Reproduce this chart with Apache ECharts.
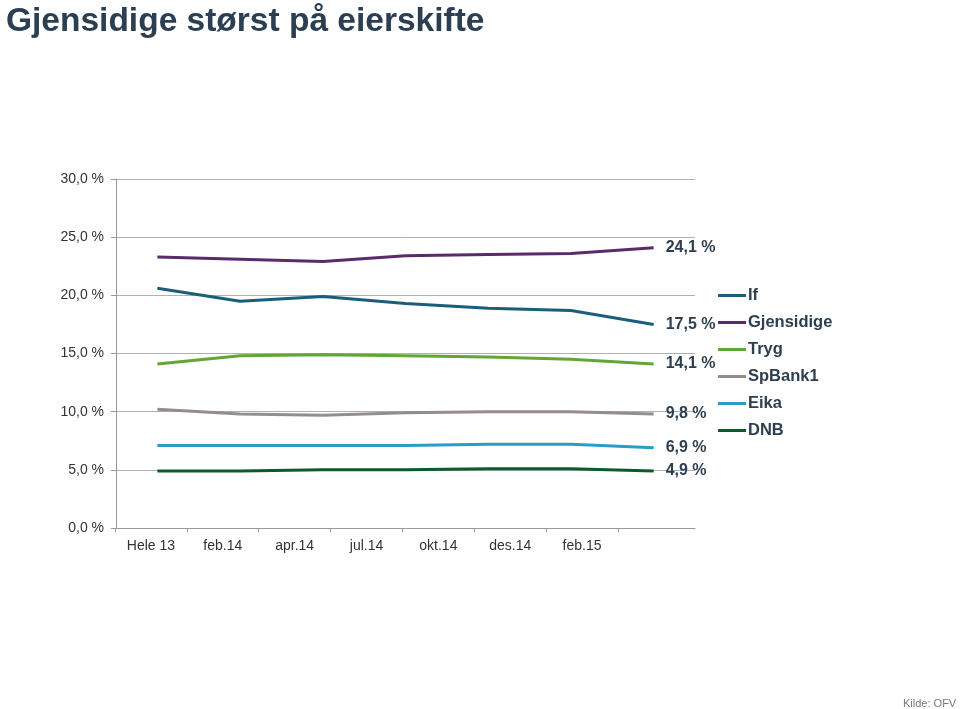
<!DOCTYPE html>
<html><head><meta charset="utf-8">
<script src="https://cdn.jsdelivr.net/npm/echarts@6/dist/echarts.min.js"></script>
<style>html,body{margin:0;padding:0;background:#fff}#c{width:960px;height:709px}</style>
</head><body><div id="c"></div>
<script>
const categories = ['Hele 13','feb.14','apr.14','jul.14','okt.14','des.14','feb.15'];
const seriesNames = ['If','Gjensidige','Tryg','SpBank1','Eika','DNB'];
const ifVals = [20.6, 19.5, 19.9, 19.3, 18.9, 18.7, 17.5];
const gjensidigeVals = [23.3, 23.1, 22.9, 23.4, 23.5, 23.6, 24.1];
const trygVals = [14.1, 14.8, 14.9, 14.8, 14.7, 14.5, 14.1];
const spbankVals = [10.2, 9.8, 9.7, 9.9, 10.0, 10.0, 9.8];
const eikaVals = [7.1, 7.1, 7.1, 7.1, 7.2, 7.2, 6.9];
const dnbVals = [4.9, 4.9, 5.0, 5.0, 5.1, 5.1, 4.9];
const yTicks = [0, 5, 10, 15, 20, 25, 30];

const colors = ['#1b5d7c','#5b2a6b','#62a638','#948d8a','#2b9bc9','#0f5a2c'];
const allVals = [ifVals, gjensidigeVals, trygVals, spbankVals, eikaVals, dnbVals];
const fmt = v => v.toFixed(1).replace('.', ',') + ' %';
const txt = '#2c3e50';

const chart = echarts.init(document.getElementById('c'));
chart.setOption({
  animation: false,
  title: [
    {text: 'Gjensidige størst på eierskifte', left: 1, top: 0,
     textStyle: {fontFamily: 'Liberation Sans', fontSize: 33.5, fontWeight: 'bold', color: '#2b3e52'}},
    {text: 'Kilde: OFV', left: 903, top: 698,
     textStyle: {fontFamily: 'Liberation Sans', fontSize: 11, fontWeight: 'normal', color: '#777'}, padding: 0}
  ],
  legend: {
    orient: 'vertical', left: 718, top: 287, itemGap: 10, padding: 0,
    icon: 'rect', itemWidth: 28, itemHeight: 3,
    data: seriesNames,
    textStyle: {fontFamily: 'Liberation Sans', fontSize: 16.5, fontWeight: 'bold', color: txt, padding: [0,0,0,-3]}
  },
  grid: [
    {left: 116, right: 265, top: 179, bottom: 181},
    {left: 115, width: 503, top: 179, bottom: 181}
  ],
  xAxis: [
    {type: 'category', gridIndex: 0, data: categories, boundaryGap: true,
     axisLine: {lineStyle: {color: '#999'}}, axisTick: {show: false}, axisLabel: {show: false}},
    {type: 'category', gridIndex: 1, data: categories, boundaryGap: true,
     axisLine: {show: false}, axisTick: {show: true, length: 4, lineStyle: {color: '#999'}},
     axisLabel: {fontFamily: 'Liberation Sans', fontSize: 14, color: '#333', margin: 11}}
  ],
  yAxis: [
    {type: 'value', gridIndex: 0, min: 0, max: 30, interval: 5,
     axisLine: {show: true, lineStyle: {color: '#999'}},
     axisTick: {show: true, length: 5, lineStyle: {color: '#999'}},
     splitLine: {lineStyle: {color: '#b0b0b0'}},
     axisLabel: {fontFamily: 'Liberation Sans', fontSize: 14, color: '#333', margin: 12,
       formatter: v => yTicks.includes(v) ? v.toFixed(1).replace('.', ',') + ' %' : ''}},
    {type: 'value', gridIndex: 1, min: 0, max: 30, show: false}
  ],
  series: seriesNames.map((n, i) => ({
    name: n, type: 'line', xAxisIndex: 0, yAxisIndex: 0, data: allVals[i],
    symbol: 'none', color: colors[i],
    lineStyle: {width: 3, color: colors[i]},
    endLabel: {show: true, formatter: p => fmt(p.value), distance: 12,
      fontFamily: 'Liberation Sans', fontSize: 16, fontWeight: 'bold', color: txt}
  }))
});
</script></body></html>
